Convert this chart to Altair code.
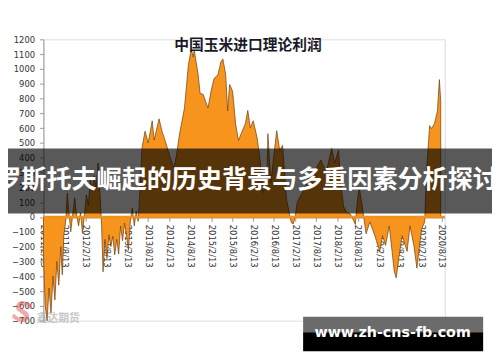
import altair as alt
import pandas as pd

TITLE = "中国玉米进口理论利润"
BANNER = "罗斯托夫崛起的历史背景与多重因素分析探讨"
SITE = "www.zh-cns-fb.com"
WATERMARK = "鑫达期货"

dates = [
    "2011-02-13", "2011-03-01", "2011-03-17", "2011-04-03", "2011-04-20", "2011-05-07",
    "2011-05-24", "2011-06-10", "2011-06-27", "2011-07-14", "2011-07-27", "2011-08-10",
    "2011-08-27", "2011-09-09", "2011-09-22", "2011-10-09", "2011-10-26", "2011-11-12",
    "2011-11-29", "2011-12-16", "2012-01-02", "2012-01-19", "2012-02-06", "2012-02-22",
    "2012-03-10", "2012-03-27", "2012-04-13", "2012-04-30", "2012-05-17", "2012-06-03",
    "2012-06-20", "2012-07-03", "2012-07-16", "2012-08-02", "2012-08-19", "2012-09-05",
    "2012-09-22", "2012-10-09", "2012-10-26", "2012-11-12", "2012-11-29", "2012-12-16",
    "2013-01-02", "2013-01-19", "2013-02-05", "2013-02-22", "2013-03-11", "2013-03-28",
    "2013-04-14", "2013-05-01", "2013-05-18", "2013-06-04", "2013-06-21", "2013-07-17",
    "2013-08-13", "2013-09-17", "2013-10-04", "2013-11-16", "2013-12-11", "2014-01-06",
    "2014-02-10", "2014-03-23", "2014-04-17", "2014-05-13", "2014-06-25", "2014-07-29",
    "2014-08-23", "2014-09-09", "2014-09-18", "2014-10-22", "2014-11-08", "2014-12-04",
    "2015-01-16", "2015-02-11", "2015-03-09", "2015-04-12", "2015-05-08", "2015-05-25",
    "2015-06-19", "2015-07-06", "2015-07-23", "2015-08-18", "2015-09-13", "2015-10-08",
    "2015-11-11", "2015-12-07", "2015-12-28", "2016-01-19", "2016-02-13", "2016-03-18",
    "2016-04-13", "2016-05-09", "2016-06-12", "2016-06-20", "2016-07-16", "2016-08-19",
    "2016-09-05", "2016-10-01", "2016-10-26", "2016-11-29", "2016-12-25", "2017-01-11",
    "2017-01-28", "2017-02-14", "2017-03-03", "2017-04-15", "2017-05-27", "2017-06-30",
    "2017-07-26", "2017-08-21", "2017-09-24", "2017-10-20", "2017-11-15", "2017-12-28",
    "2018-01-22", "2018-02-25", "2018-03-14", "2018-04-09", "2018-05-05", "2018-06-08",
    "2018-07-04", "2018-07-21", "2018-08-07", "2018-08-24", "2018-09-10", "2018-09-27",
    "2018-10-23", "2018-11-25", "2019-01-07", "2019-02-19", "2019-03-15", "2019-04-10",
    "2019-05-13", "2019-06-25", "2019-07-12", "2019-08-07", "2019-09-02", "2019-10-15",
    "2019-11-09", "2019-12-13", "2020-01-08", "2020-01-25", "2020-02-19", "2020-03-16",
    "2020-04-02", "2020-04-28", "2020-05-15", "2020-06-09", "2020-07-05", "2020-07-22",
    "2020-08-03",
]
profit = [
    -250, -600, -700, -480, -650, -400,
    -560, -300, -460, -200, -390, -120,
    -20, 160, 40, -100, 20, 130,
    10, -60, 30, -110, 20, 150,
    80, 250, 180, 280, 200, 365,
    150, -50, -370, -150, -280, -120,
    -200, -130, -255, -150, -250, -60,
    -160, -40, -120, -225, -30, 60,
    -60, 40, -30, 200, 470, 580,
    500, 650, 520, 663, 580, 520,
    430, 330, 420, 560, 736, 1028,
    1134, 1080, 1127, 961, 835, 829,
    736, 849, 935, 961, 1048, 1068,
    961, 716, 895, 849, 630, 517,
    583, 630, 720, 603, 650, 537,
    385, 165, 232, 563, 232, 470,
    583, 450, 484, 120, 20, -40,
    -45, 10, 100, 165, 232, 305,
    250, 340, 385, 340, 318, 464,
    365, 450, 250, 73, 33, 20,
    -20, -50, 100, 200, 120, 30,
    -113, -33, -126, -232, -126, -192,
    -60, -365, -411, -259, -126, -232,
    -60, -192, -345, -232, -80, -33,
    318, 617, 597, 630, 716, 928,
    780,
]

x_tick_dates = [
    (2011, 2), (2011, 8), (2012, 2), (2012, 8), (2013, 2), (2013, 8),
    (2014, 2), (2014, 8), (2015, 2), (2015, 8), (2016, 2), (2016, 8),
    (2017, 2), (2017, 8), (2018, 2), (2018, 8), (2019, 2), (2019, 8),
    (2020, 2), (2020, 8),
]
y_ticks = [-700, -600, -500, -400, -300, -200, -100, 0, 100, 200, 300, 400,
           500, 600, 700, 800, 900, 1000, 1100, 1200]

df = pd.DataFrame({"date": dates, "profit": profit})
one = pd.DataFrame({"a": [0]})

x_enc = alt.X(
    "date:T",
    scale=alt.Scale(type="utc", domain=[alt.DateTime(year=2011, month=2, date=13, utc=True),
                                        alt.DateTime(year=2020, month=9, date=7, utc=True)]),
    axis=alt.Axis(
        title=None,
        values=[alt.DateTime(year=y, month=m, date=13, utc=True) for y, m in x_tick_dates],
        tickCount=len(x_tick_dates),
        labelExpr="utcFormat(datum.value, '%Y/%-m/%-d')",
        labelAngle=90, labelAlign="left", labelBaseline="middle",
        labelFont="DejaVu Sans", labelFontSize=8.5, labelColor="#333333",
        labelPadding=3, tickSize=4, tickColor="#999999",
        domainColor="#999999", grid=False, offset=-105, labelOverlap=False,
    ),
)
y_enc = alt.Y(
    "profit:Q",
    scale=alt.Scale(domain=[-700, 1200], nice=False),
    axis=alt.Axis(
        title=None, values=y_ticks, tickCount=len(y_ticks), format="d",
        labelFont="DejaVu Sans", labelFontSize=8.5,
        labelColor="#333333", tickSize=4, tickColor="#999999", domainColor="#999999",
        grid=False, labelPadding=5, labelOverlap=False,
    ),
)

area = alt.Chart(df).mark_area(
    color="#F7941D", stroke="#6e3a0c", strokeWidth=0.7, interpolate="linear"
).encode(x=x_enc, y=y_enc)

zero = alt.Chart(one).mark_rule(color="#F0901E", strokeWidth=2.5).encode(
    y=alt.datum(0), x=alt.value(0), x2=alt.value(408)
)

title = alt.Chart(one).mark_text(
    font="Noto Sans CJK SC", fontSize=15, fontWeight="bold", color="#1a1a2a",
    align="center", baseline="middle",
).encode(x=alt.value(208), y=alt.value(6), text=alt.value(TITLE))

banner = alt.Chart(one).mark_rect(color="black", opacity=0.65).encode(
    x=alt.value(-44), x2=alt.value(456), y=alt.value(111), y2=alt.value(177)
)
banner_text = alt.Chart(one).mark_text(
    font="Noto Sans CJK SC", fontSize=25.5, fontWeight="bold", color="white",
    align="center", baseline="middle",
).encode(x=alt.value(207), y=alt.value(143), text=alt.value(BANNER))

wm_logo = alt.Chart(one).mark_text(
    font="DejaVu Sans", fontSize=28, fontWeight="bold", color="#e05a5a", opacity=0.5,
    align="center", baseline="middle", angle=20,
).encode(x=alt.value(-22), y=alt.value(279), text=alt.value("S"))
wm_text = alt.Chart(one).mark_text(
    font="Noto Sans CJK SC", fontSize=11, fontWeight="bold", color="#9a9a9a", opacity=0.55,
    align="left", baseline="middle",
).encode(x=alt.value(-7), y=alt.value(284), text=alt.value(WATERMARK))

box_top = alt.Chart(one).mark_rect(color="#6b6b6b").encode(
    x=alt.value(264), x2=alt.value(447), y=alt.value(282), y2=alt.value(299)
)
box_bot = alt.Chart(one).mark_rect(color="black").encode(
    x=alt.value(264), x2=alt.value(447), y=alt.value(298), y2=alt.value(317)
)
box_text = alt.Chart(one).mark_text(
    font="DejaVu Sans", fontSize=14.5, fontWeight="bold", color="white",
    align="center", baseline="middle",
).encode(x=alt.value(355), y=alt.value(299), text=alt.value(SITE))

chart = alt.layer(
    area, zero, title, wm_logo, wm_text, banner, banner_text, box_top, box_bot, box_text
).properties(
    width=408, height=286,
    autosize=alt.AutoSizeParams(type="none"),
    padding={"left": 36, "top": 29, "right": 48, "bottom": 31},
).configure_view(stroke=None).configure(background="white")

chart.save("out.html", embed_options={"renderer": "svg", "actions": False})
